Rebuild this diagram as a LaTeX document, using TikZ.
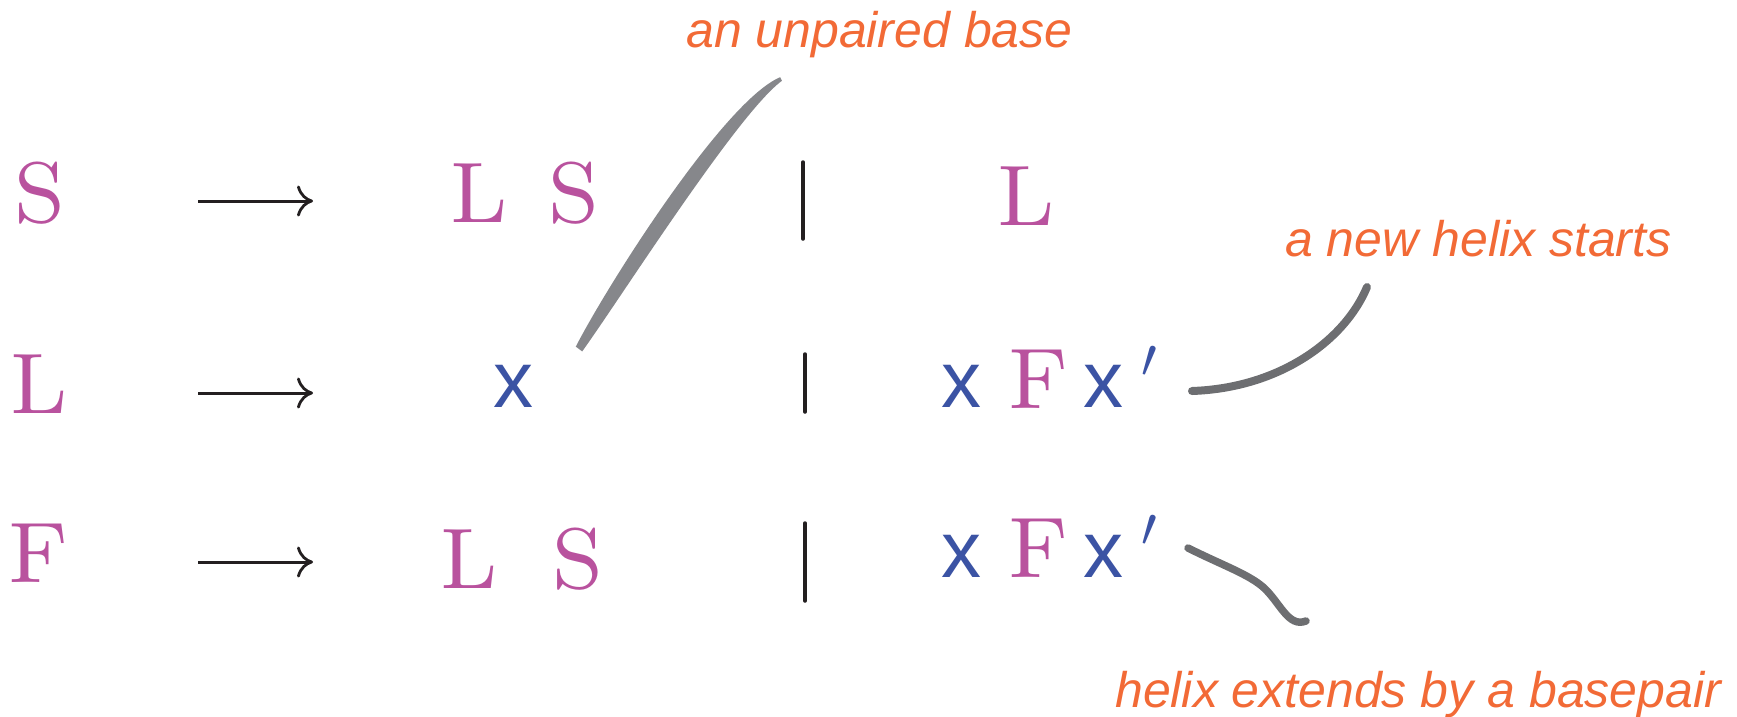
\RequirePackage{fix-cm}
\documentclass[tikz,border=0pt]{standalone}
\usepackage{fontspec}
\usetikzlibrary{arrows.meta,calc}
\newfontfamily\labfont{Liberation Sans}
\newfontfamily\ntfont{lmroman8-regular.otf}
\definecolor{sym}{HTML}{B9529E}
\definecolor{term}{HTML}{3B53A4}
\definecolor{note}{HTML}{F26A36}
\definecolor{barcol}{HTML}{231F20}
\definecolor{leadA}{HTML}{86878B}
\definecolor{leadB}{HTML}{6D6E71}
\tikzset{
  nt/.style={inner sep=0pt, anchor=base, text=sym, font=\ntfont\fontsize{86}{86}\selectfont},
  tm/.style={inner sep=0pt, anchor=base, text=term, font=\labfont\fontsize{80}{80}\selectfont},
  pr/.style={inner sep=0pt, anchor=center, text=term, font=\fontsize{56}{56}\selectfont},
  lab/.style={inner sep=0pt, anchor=base west, text=note, font=\labfont\itshape\fontsize{50}{60}\selectfont},
  prod/.style={draw=barcol, line width=3pt, -{Computer Modern Rightarrow[length=16pt,width=31pt,line width=2.8pt]}},
  orbar/.style={draw=barcol, line width=3.5pt, line cap=round},
  leader/.style={draw=leadB, line width=8pt, line cap=round}
}
\begin{document}
\begin{tikzpicture}[x=1pt,y=-1pt]
\useasboundingbox (0,0) rectangle (1737,716);
% row 1
\node[nt] (s1) at (39.5,222) {S};
\node[nt] (l1a) at (479.5,222) {L};
\node[nt] (s1a) at (574,222) {S};
\node[nt] (l1b) at (1026,225) {L};
% row 2
\node[nt] (l2) at (39,413) {L};
\node[tm] (x2) at (513,407) {x};
\node[tm] (x2a) at (961,407) {x};
\node[nt] (f2) at (1038.5,408) {F};
\node[tm] (x2b) at (1103,407) {x};
\node[pr] (p2) at (1149.5,362) {$\prime$};
% row 3
\node[nt] (f3) at (38.5,582) {F};
\node[nt] (l3) at (469,588) {L};
\node[nt] (s3) at (578,588) {S};
\node[tm] (x3a) at (961,577) {x};
\node[nt] (f3a) at (1038.5,577) {F};
\node[tm] (x3b) at (1103,577) {x};
\node[pr] (p3) at (1149.5,531) {$\prime$};
% production arrows
\coordinate (a1s) at (198,201); \coordinate (a1e) at (313,201);
\coordinate (a2s) at (198,393); \coordinate (a2e) at (313,393);
\coordinate (a3s) at (198,562); \coordinate (a3e) at (313,562);
\draw[prod] (a1s) -- (a1e);
\draw[prod] (a2s) -- (a2e);
\draw[prod] (a3s) -- (a3e);
% alternative bars
\coordinate (b1t) at (803,162); \coordinate (b1b) at (803,239);
\coordinate (b2t) at (805,354); \coordinate (b2b) at (805,412);
\coordinate (b3t) at (805,523); \coordinate (b3b) at (805,601);
\draw[orbar] (b1t) -- (b1b);
\draw[orbar] (b2t) -- (b2b);
\draw[orbar] (b3t) -- (b3b);
% annotations
\node[lab] (n1) at (686,47) {an unpaired base};
\node[lab] (n2) at (1285,256) {a new helix starts};
\node[lab] (n3) at (1115,707) {helix extends by a basepair};
% leader 1 (tapered)
\coordinate (u0) at (579,349);
\coordinate (u1) at (781,79);
\fill[leadA] ($(u0)+(3.2,2.4)$) .. controls (622,296) and (738,113) .. ($(u1)+(0.9,1.8)$)
  -- ($(u1)+(-0.9,-1.8)$) .. controls (724,101) and (608,284) .. ($(u0)+(-3.2,-2.4)$) -- cycle;
% leader 2
\coordinate (v0) at (1192,391);
\coordinate (v1) at (1367,287);
\draw[leader] (v0) .. controls (1280,388) and (1345,340) .. (v1);
% leader 3
\coordinate (w0) at (1188,548);
\coordinate (w1) at (1306,621);
\draw[leader, line width=7.5pt] (w0) .. controls (1222,565) and (1248,574) .. (1263,587)
  .. controls (1280,602) and (1288,628) .. (w1);
\end{tikzpicture}
\end{document}
